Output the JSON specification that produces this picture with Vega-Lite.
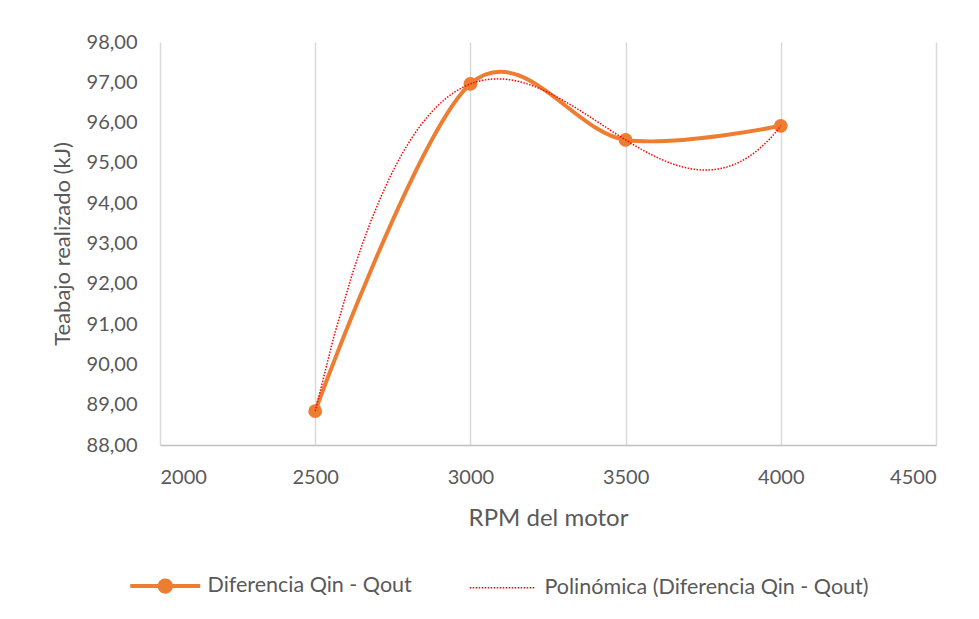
{
  "$schema": "https://vega.github.io/schema/vega-lite/v6.json",
  "width": 776,
  "height": 403,
  "autosize": {"type": "none"},
  "padding": {"left": 160, "top": 42, "right": 43, "bottom": 174},
  "background": "white",
  "config": {
    "view": {"stroke": null},
    "font": "Lato",
    "axis": {
      "labelFont": "Lato",
      "titleFont": "Lato",
      "labelColor": "#595959",
      "titleColor": "#595959",
      "labelFontSize": 20,
      "titleFontSize": 23,
      "titleFontWeight": "normal",
      "ticks": false
    }
  },
  "data": {
    "values": [
      {"rpm": 2500, "trabajo": 88.84, "serie": "Diferencia Qin - Qout"},
      {"rpm": 3000, "trabajo": 96.96, "serie": "Diferencia Qin - Qout"},
      {"rpm": 3500, "trabajo": 95.57, "serie": "Diferencia Qin - Qout"},
      {"rpm": 4000, "trabajo": 95.92, "serie": "Diferencia Qin - Qout"},
      {"rpm": 2500, "trabajo": 88.84, "serie": "Polinómica (Diferencia Qin - Qout)"},
      {"rpm": 3000, "trabajo": 96.96, "serie": "Polinómica (Diferencia Qin - Qout)"},
      {"rpm": 3500, "trabajo": 95.57, "serie": "Polinómica (Diferencia Qin - Qout)"},
      {"rpm": 4000, "trabajo": 95.92, "serie": "Polinómica (Diferencia Qin - Qout)"}
    ]
  },
  "encoding": {
    "x": {
      "field": "rpm",
      "type": "quantitative",
      "scale": {"domain": [2000, 4500], "nice": false, "zero": false},
      "axis": {
        "title": "RPM del motor",
        "values": [2000, 2500, 3000, 3500, 4000, 4500],
        "format": "d",
        "grid": true,
        "gridColor": "#d9d9d9",
        "gridWidth": 1.5,
        "domainColor": "#bfbfbf",
        "domainWidth": 1.5,
        "labelPadding": 22,
        "titleFontSize": 24,
        "titlePadding": 19
      }
    },
    "y": {
      "field": "trabajo",
      "type": "quantitative",
      "scale": {"domain": [88, 98], "nice": false, "zero": false},
      "axis": {
        "title": "Teabajo realizado (kJ)",
        "values": [88, 89, 90, 91, 92, 93, 94, 95, 96, 97, 98],
        "labelExpr": "replace(format(datum.value, '.2f'), '.', ',')",
        "grid": false,
        "domain": false,
        "labelPadding": 23,
        "titleFontSize": 22,
        "titlePadding": 12
      }
    },
    "color": {
      "field": "serie",
      "type": "nominal",
      "scale": {
        "domain": ["Diferencia Qin - Qout", "Polinómica (Diferencia Qin - Qout)"],
        "range": ["#ed7d31", "#ff0000"]
      },
      "legend": {
        "title": null,
        "orient": "none",
        "legendX": -5.5,
        "legendY": 533,
        "direction": "horizontal",
        "padding": 0,
        "symbolType": "M-1,0L1,0",
        "symbolSize": 4900,
        "symbolStrokeWidth": 4,
        "labelFont": "Lato",
        "labelFontSize": 21.5,
        "labelColor": "#595959",
        "labelLimit": 0,
        "labelOffset": 31.5,
        "columnPadding": 54,
        "encode": {
          "symbols": {
            "update": {
              "shape": {"signal": "datum.value === 'Diferencia Qin - Qout' ? 'M-1,0L1,0M-0.16,0A0.16,0.16,0,1,1,0.16,0A0.16,0.16,0,1,1,-0.16,0' : 'M-0.93,0L0.93,0'"},
              "fill": {"signal": "datum.value === 'Diferencia Qin - Qout' ? '#ed7d31' : 'transparent'"},
              "stroke": {"signal": "datum.value === 'Diferencia Qin - Qout' ? '#ed7d31' : '#ff0000'"},
              "strokeWidth": {"signal": "datum.value === 'Diferencia Qin - Qout' ? 4 : 1.5"},
              "strokeDash": {"signal": "datum.value === 'Diferencia Qin - Qout' ? [1, 0] : [1.5, 1.5]"},
              "opacity": {"value": 1}
            }
          }
        }
      }
    }
  },
  "layer": [
    {
      "transform": [{"filter": "datum.serie === 'Diferencia Qin - Qout'"}],
      "mark": {"type": "line", "interpolate": "cardinal", "strokeWidth": 4}
    },
    {
      "transform": [{"filter": "datum.serie === 'Diferencia Qin - Qout'"}],
      "mark": {"type": "point", "filled": true, "size": 190, "opacity": 1}
    },
    {
      "transform": [
        {"filter": "datum.serie !== 'Diferencia Qin - Qout'"},
        {"regression": "trabajo", "on": "rpm", "method": "poly", "order": 3, "groupby": ["serie"]}
      ],
      "mark": {"type": "line", "strokeWidth": 1.5, "strokeDash": [1.5, 1.5]}
    }
  ]
}
